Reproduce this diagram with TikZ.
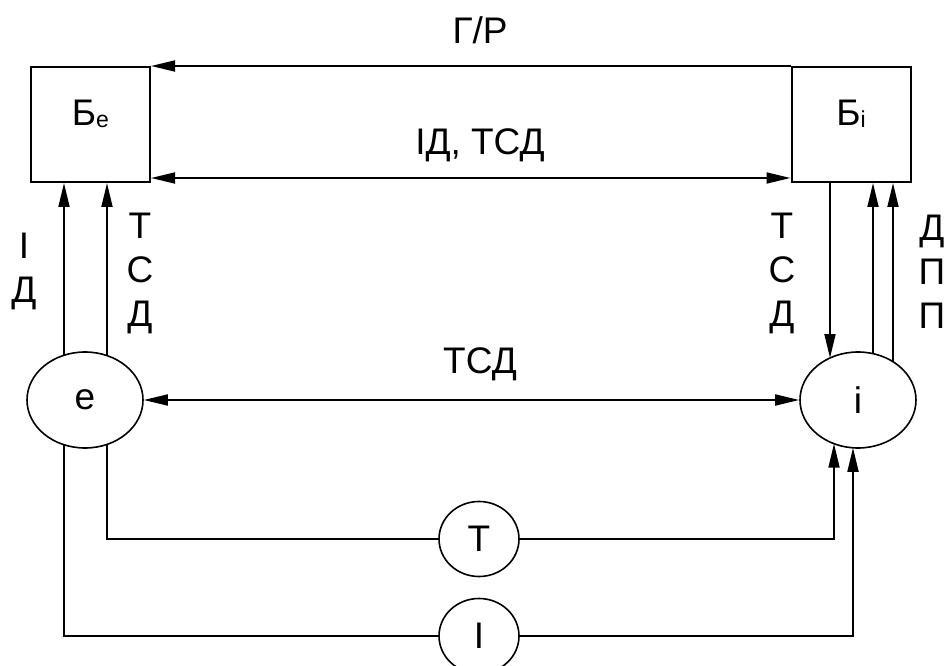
\documentclass[tikz,border=0pt]{standalone}
\usepackage{fontspec}
\setmainfont{Liberation Sans}
\usetikzlibrary{arrows.meta,shapes.geometric}
\begin{document}
\begin{tikzpicture}[x=1pt,y=-1pt,
  lbl/.style={inner sep=0pt,font=\fontsize{37}{44}\selectfont,anchor=base},
  vlbl/.style={lbl,align=center},
  blk/.style={draw,line width=2pt,minimum width=119pt,minimum height=115pt,inner sep=0pt},
  oval/.style={draw,ellipse,line width=1.6pt,inner sep=0pt,font=\fontsize{37}{44}\selectfont},
  conn/.style={line width=1.8pt},
  arr/.style={conn,-{Triangle[length=24pt,width=11pt]}},
  darr/.style={conn,{Triangle[length=24pt,width=11pt]}-{Triangle[length=24pt,width=11pt]}}]
\useasboundingbox (0,0) rectangle (946,666);

% blocks
\node[blk] (Be) at (90.5,124.5) {};
\node[blk] (Bi) at (851,124.5) {};
\node[lbl] (Bet) at (90.5,126) {Б\raisebox{-2pt}{\fontsize{23}{23}\selectfont e}};
\node[lbl] (Bit) at (851,126) {Б\raisebox{-2pt}{\fontsize{23}{23}\selectfont i}};

% ellipses
\node[oval,minimum width=116pt,minimum height=96pt] (e) at (85,400) {e};
\node[oval,minimum width=116pt,minimum height=96pt] (i) at (858,400) {i};
\node[oval,minimum width=80pt,minimum height=75pt] (T) at (479,539) {Т};
\node[oval,minimum width=80pt,minimum height=75pt] (I) at (479,636) {І};

% boundary points on ellipses
\coordinate (e1t) at (64,355.3);
\coordinate (e2t) at (107,355.6);
\coordinate (e1b) at (64,444.7);
\coordinate (e2b) at (107,444.4);
\coordinate (i1t) at (830,358);
\coordinate (i2t) at (873,353.6);
\coordinate (i3t) at (893,361.7);
\coordinate (i1b) at (834,443.7);
\coordinate (i2b) at (853,447.8);

% top connections
\draw[arr] (Bi.north west) -- (Be.north east);
\draw[darr] (Be.east |- 0,178) -- (Bi.west |- 0,178);
\draw[darr] (e) -- (i);

% verticals
\draw[arr] (e1t) -- (Be.south -| e1t);
\draw[arr] (e2t) -- (Be.south -| e2t);
\draw[arr] (Bi.south -| i1t) -- (i1t);
\draw[arr] (i2t) -- (Bi.south -| i2t);
\draw[arr] (i3t) -- (Bi.south -| i3t);

% bottom loops
\draw[conn] (e2b) |- (T);
\draw[arr] (T) -| (i1b);
\draw[conn] (e1b) |- (I);
\draw[arr] (I) -| (i2b);

% labels (base anchor of a multi-line node is the last line's baseline)
\node[lbl] (lGR) at (480,44) {Г/Р};
\node[lbl] (lID) at (480,155) {ІД, ТСД};
\node[lbl] (lTSD) at (480,373) {ТСД};
\node[vlbl] (lL1) at (24,302) {І\\Д};
\node[vlbl] (lL2) at (140,326) {Т\\С\\Д};
\node[vlbl] (lR1) at (782,326) {Т\\С\\Д};
\node[vlbl] (lR2) at (932,328) {Д\\П\\П};
\end{tikzpicture}
\end{document}
